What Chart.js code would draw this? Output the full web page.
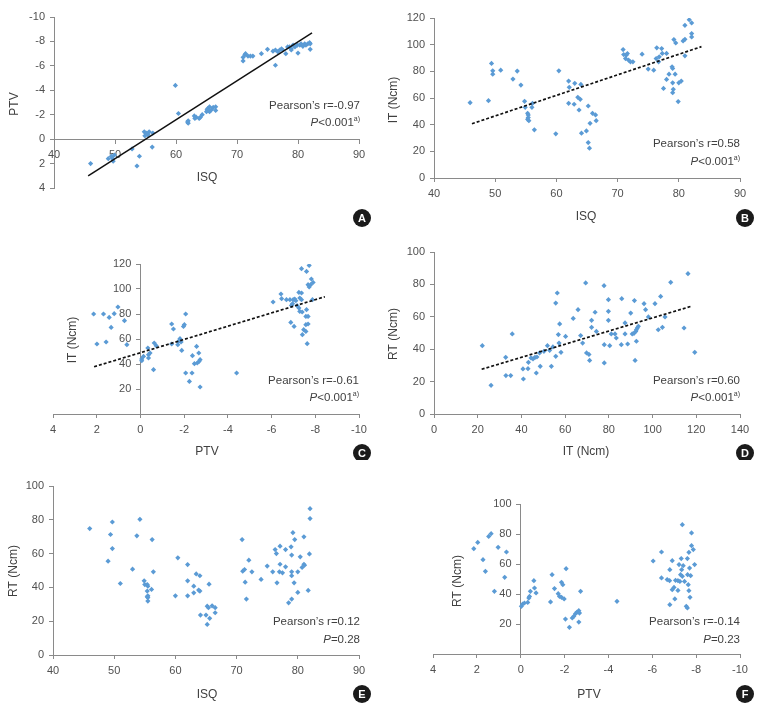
<!DOCTYPE html>
<html>
<head>
<meta charset="utf-8">
<script src="https://cdn.jsdelivr.net/npm/chart.js@4"></script>
<style>
  body { margin: 0; background: #fff; }
  #fig { position: relative; width: 758px; height: 706px; }
  #fig canvas { position: absolute; }
</style>
</head>
<body>
<div id="fig">
  <canvas id="pA" width="379" height="230" style="left:0;top:0"></canvas>
  <canvas id="pB" width="379" height="230" style="left:379px;top:0"></canvas>
  <canvas id="pC" width="379" height="230" style="left:0;top:230px"></canvas>
  <canvas id="pD" width="379" height="230" style="left:379px;top:230px"></canvas>
  <canvas id="pE" width="379" height="246" style="left:0;top:460px"></canvas>
  <canvas id="pF" width="379" height="246" style="left:379px;top:460px"></canvas>
</div>
<script>
// ---- data ----
// A: ISQ vs PTV
const isqPtv = [[46,2.0],[48.9,1.6],[49.4,1.4],[49.7,1.8],[49.9,1.3],[49.6,1.6],[52.8,0.8],[54,1.4],[53.6,2.2],[54.8,-0.6],[55.1,-0.5],[55.4,-0.35],[54.9,-0.27],[55.6,-0.6],[56.2,-0.5],[56.1,0.65],[59.9,-4.4],[60.4,-2.1],[61.9,-1.4],[62,-1.3],[62,-1.5],[63,-1.9],[63.3,-1.8],[64,-1.8],[64.3,-2.0],[63.8,-1.7],[63.1,-1.7],[65,-2.25],[65.2,-2.5],[65.5,-2.65],[65.8,-2.4],[66.1,-2.6],[66.5,-2.65],[66.5,-2.35],[65.5,-2.25],[65.1,-2.4],[71,-6.4],[71,-6.7],[71.3,-6.9],[71.4,-7.0],[71.8,-6.8],[72.2,-6.8],[72.6,-6.8],[74,-7.0],[75,-7.35],[75.9,-7.2],[76.3,-7.3],[76.7,-7.15],[76.3,-6.05],[77,-7.3],[77.3,-7.4],[77.5,-7.3],[78,-7.0],[78.3,-7.55],[78.6,-7.55],[78.9,-7.4],[79.2,-7.7],[78.9,-7.3],[79.5,-7.55],[79.9,-7.7],[80,-7.05],[80.3,-7.7],[80.5,-7.8],[80.8,-7.6],[81.1,-7.8],[81.6,-7.8],[81.9,-7.9],[82,-7.35],[82,-7.8],[81.3,-7.7]];
const fitA = [[45.6,3.0],[82.3,-8.7]];

// B: ISQ vs IT
const isqIt = [[45.9,56.5],[48.9,58],[49.4,85.9],[49.6,80.4],[49.6,77.9],[50.9,80.9],[52.9,74.2],[53.6,80.2],[54.2,69.7],[54.8,57.5],[54.9,53],[55.3,48.5],[55.4,47.3],[55.4,45.3],[55.3,44],[55.5,43],[56,53],[56.1,56],[56.4,36.1],[59.9,33.1],[60.4,80.4],[62,72.7],[62.1,68],[62,56],[63,71],[62.9,55.3],[63.5,60.5],[63.9,59],[63.7,51],[64,70.2],[64.1,33.6],[64.9,35.3],[65.2,54],[65.2,26.6],[65.4,22.4],[65.5,41],[65.9,48.5],[66.4,47.3],[66.5,43],[70.9,96.3],[71,92.6],[71.4,92.1],[71.6,93.3],[71.3,89.6],[71.8,88.4],[72.1,87.1],[72.5,87.1],[74,92.9],[75,81.7],[75.9,80.9],[76.4,97.6],[76.3,89.6],[76.7,87.1],[76.8,90.9],[77.2,97.1],[77.3,93.4],[77.5,67.2],[78,73.9],[78,93.4],[78.4,77.9],[78.9,83.4],[79,82.2],[79,71.4],[79.1,66.5],[79,64],[79.2,103.8],[79.5,101.3],[79.4,77.9],[79.9,57.3],[80,71.4],[80.4,72.7],[80.7,102.8],[81,104],[81,91.6],[81,114.5],[81.7,118.7],[82.1,116.3],[82.1,108.3],[82.1,105.8]];
const fitB = [[46.2,40.7],[83.7,98.5]];

// C: PTV vs IT
const ptvIt = [[2.14,80],[1.99,56],[1.69,80],[1.57,57.6],[1.43,77.3],[1.34,69.3],[1.2,80.3],[1.03,85.6],[0.73,74.7],[0.62,55.5],[-0.06,44],[-0.14,46.1],[-0.06,42.7],[-0.37,44.8],[-0.37,47.5],[-0.44,48.8],[-0.34,52.8],[-0.6,35.5],[-0.63,56.8],[-0.72,54.7],[-1.43,72],[-1.51,68],[-1.43,56],[-1.71,55.5],[-1.74,58.1],[-1.81,60.3],[-1.86,57.6],[-1.89,50.9],[-1.97,70.1],[-2.01,71.5],[-2.07,80],[-2.07,32.8],[-2.24,26.1],[-2.38,46.7],[-2.36,32.8],[-2.47,40.3],[-2.57,54.1],[-2.6,40.8],[-2.68,42.1],[-2.73,43.5],[-2.67,48.8],[-2.73,21.6],[-4.4,32.8],[-6.07,89.6],[-6.43,96],[-6.46,92.3],[-6.68,91.5],[-6.84,91.5],[-6.96,88.3],[-6.91,86.9],[-6.99,91.5],[-7.06,92],[-7.11,90.7],[-6.88,73.3],[-7.03,70.1],[-7.17,86.7],[-7.25,84.8],[-7.25,97.3],[-7.37,96.8],[-7.29,92.8],[-7.37,91.5],[-7.29,82.1],[-7.4,81.6],[-7.37,116.3],[-7.41,63.5],[-7.47,67.5],[-7.57,66.1],[-7.6,114.1],[-7.6,83.5],[-7.57,78.1],[-7.67,78.1],[-7.57,71.5],[-7.67,72],[-7.63,56.3],[-7.67,103.5],[-7.72,101.6],[-7.79,103.5],[-7.72,118.9],[-7.82,108],[-7.87,91.5],[-7.9,105.3]];
const fitC = [[2.12,37.8],[-8.44,93.8]];

// D: IT vs RT
const itRt = [[22.1,42.2],[26.1,17.7],[32.8,35],[32.9,23.7],[35.1,23.7],[35.8,49.4],[40.7,27.8],[40.9,21.6],[43,28],[43.2,31.9],[44.4,34.6],[45.3,34],[46.2,35],[47.1,35.2],[46.8,25.3],[48.3,37.7],[48.6,29.4],[50.3,38.7],[51.9,42.2],[52.9,39.3],[53.7,29.4],[54.4,41.4],[55.7,35.6],[55.7,68.5],[56.4,74.7],[56.9,49],[57.2,43.8],[57.5,55.6],[58.1,38.1],[60.2,47.9],[63.7,59],[65.9,64.4],[67.1,48.4],[68,43.8],[69.4,80.9],[69.8,37.7],[70.9,36.8],[71.2,33.1],[72.1,57.8],[72.1,53.5],[73.7,62.8],[74.3,51],[77.8,79.2],[77.9,42.8],[77.9,31.5],[79.8,63.4],[79.8,57.8],[79.8,70.6],[80.4,42.2],[81.1,49.4],[82.8,49.4],[83.4,46.9],[85.7,42.8],[85.9,71.2],[87.4,56.2],[87.4,49.4],[88.6,43.2],[90,62.3],[90.7,49.4],[91.5,49.8],[92.3,51],[93,53.1],[93.5,54.1],[92.6,52],[91.7,70],[92,33.1],[92.6,44.9],[96.1,68.1],[96.8,64.4],[98.1,59.9],[101.1,68.1],[102.6,52],[103.7,72.6],[104.5,53.5],[105.7,59.9],[108.3,81.3],[114.4,53.1],[116.2,86.6],[119.3,38.1]];
const fitD = [[21.8,27.6],[118.2,66.7]];

// E: ISQ vs RT
const isqRt = [[46,74.8],[49,55.5],[49.4,71.3],[49.7,78.7],[49.7,63],[51,42.3],[53,50.8],[53.7,70.5],[54.2,80.3],[54.9,43.9],[55,41.7],[55.4,41.7],[55.5,40.7],[55.4,37.8],[55.5,35],[55.5,34],[55.5,31.9],[55.4,34.4],[56.1,38.8],[56.2,68.3],[56.4,49.2],[60,35],[60.4,57.5],[62,53.5],[62,43.9],[62,35],[63,40.7],[63,36.8],[63.4,48],[63.8,38.4],[64,37.8],[64,46.9],[64.1,23.6],[65,23.6],[65.2,28.9],[65.4,28],[65.2,18.1],[65.5,41.9],[65.6,21.7],[66,29.1],[66.5,28],[66.5,25],[70.9,68.3],[71,49.6],[71.3,50.6],[71.4,43.1],[71.6,33.1],[72,56.1],[72.5,49.2],[74,44.7],[75,52.6],[75.9,49.2],[76.3,62.4],[76.5,60],[76.6,42.7],[77.1,64.4],[77.1,53.7],[77,49.2],[77.5,48.6],[78,62.4],[78,52.2],[78.5,30.9],[78.9,64],[79,59.1],[79,49.2],[79,46.9],[79,33.1],[79.2,72.4],[79.5,68.3],[79.4,42.7],[80,49.2],[80,37],[80.4,58.1],[80.7,51.8],[81,69.9],[81,53.7],[81.1,53.1],[81.7,38.2],[82,86.6],[82,80.7],[81.9,59.8]];

// F: PTV vs RT
const ptvRt = [[2.14,70.2],[1.96,74.4],[1.72,62.9],[1.61,55.1],[1.46,78.4],[1.35,80.2],[1.2,41.8],[1.03,71.1],[0.73,51.1],[0.65,68],[-0.03,31.8],[-0.09,33.3],[-0.17,34],[-0.32,34.4],[-0.37,37.3],[-0.4,38.4],[-0.44,41.8],[-0.6,48.9],[-0.63,44],[-0.7,40.7],[-1.36,34.7],[-1.43,52.9],[-1.54,43.6],[-1.71,40.2],[-1.77,38.4],[-1.86,37.8],[-1.86,47.8],[-1.92,46.2],[-1.98,36.7],[-2.04,23.3],[-2.07,56.9],[-2.22,17.8],[-2.35,24],[-2.42,25.1],[-2.5,26.9],[-2.57,28],[-2.65,28.9],[-2.68,27.3],[-2.65,21.3],[-2.73,41.8],[-4.39,35.1],[-6.04,62],[-6.42,50.7],[-6.42,68],[-6.68,49.6],[-6.79,48.9],[-6.8,56.2],[-6.8,32.9],[-6.91,62.2],[-6.91,42.9],[-6.99,44.4],[-7.03,36.7],[-7.06,49.1],[-7.17,48.9],[-7.26,48.4],[-7.17,42.4],[-7.22,59.6],[-7.34,56.2],[-7.29,52.9],[-7.37,51.8],[-7.32,63.6],[-7.37,86.2],[-7.41,58.9],[-7.47,48.4],[-7.55,31.8],[-7.6,30.7],[-7.6,63.6],[-7.61,52.9],[-7.64,46.2],[-7.67,42.2],[-7.67,67.8],[-7.7,57.3],[-7.72,37.8],[-7.75,52.2],[-7.79,80.7],[-7.79,72.2],[-7.87,69.6],[-7.93,59.6]];

const pearsonR = ['-0.97', '0.58', '-0.61', '0.60', '0.12', '-0.14'];
const pValues = ['<0.001', '<0.001', '<0.001', '<0.001', '=0.28', '=0.23'];

// ---- styling ----
const FONT = "'Liberation Sans', Arial, sans-serif";
const BLUE = '#5b9bd5';
const AXIS = '#8a8a8a';
const TEXT = '#404040';
Chart.defaults.font.family = FONT;
Chart.defaults.font.size = 11;
Chart.defaults.color = '#505050';

const toXY = arr => arr.map(p => ({ x: p[0], y: p[1] }));

const panelText = {
  id: 'panelText',
  afterDraw(chart, args, o) {
    const ctx = chart.ctx;
    ctx.save();
    ctx.fillStyle = TEXT;
    ctx.textBaseline = 'middle';
    ctx.textAlign = 'center';
    ctx.font = '12px ' + FONT;
    ctx.fillText(o.xTitle, o.xt[0], o.xt[1]);
    ctx.save();
    ctx.translate(o.yt[0], o.yt[1]);
    ctx.rotate(-Math.PI / 2);
    ctx.fillText(o.yTitle, 0, 0);
    ctx.restore();

    // statistics, right aligned
    ctx.textAlign = 'right';
    ctx.font = '11.5px ' + FONT;
    ctx.fillText('Pearson\u2019s r=' + o.r, o.sx, o.sy[0]);
    const fIt = 'italic 11.5px ' + FONT, fReg = '11.5px ' + FONT, fSup = '7px ' + FONT;
    ctx.font = fSup; const wS = o.sup ? ctx.measureText(o.sup).width : 0;
    ctx.font = fReg; const wR = ctx.measureText(o.p).width;
    ctx.font = fIt; const wP = ctx.measureText('P').width;
    let x = o.sx - wS - wR - wP;
    ctx.textAlign = 'left';
    ctx.fillText('P', x, o.sy[1]); x += wP;
    ctx.font = fReg; ctx.fillText(o.p, x, o.sy[1]); x += wR;
    if (o.sup) { ctx.font = fSup; ctx.fillText(o.sup, x, o.sy[1] - 4); }

    // panel badge
    ctx.fillStyle = '#1b1b1b';
    ctx.beginPath();
    ctx.arc(o.badge[0], o.badge[1], 9, 0, Math.PI * 2);
    ctx.fill();
    ctx.fillStyle = '#fff';
    ctx.font = 'bold 11px ' + FONT;
    ctx.textAlign = 'center';
    ctx.fillText(o.letter, o.badge[0], o.badge[1] + 0.5);
    ctx.restore();
  }
};

function axis(min, max, step, extra) {
  return Object.assign({
    type: 'linear', min: min, max: max,
    ticks: { stepSize: step, padding: 5, color: '#505050' },
    grid: { drawOnChartArea: false, tickLength: 4, color: AXIS },
    border: { color: AXIS, width: 1 }
  }, extra);
}

function panel(id, pts, fit, dashed, pad, scales, text) {
  const datasets = [];
  if (fit) {
    datasets.push({
      data: toXY(fit), showLine: true, pointRadius: 0,
      borderColor: '#111', borderWidth: dashed ? 1.7 : 1.5,
      borderDash: dashed ? [3, 2] : []
    });
  }
  datasets.push({
    data: toXY(pts), pointStyle: 'rectRot', pointRadius: 2.6,
    backgroundColor: BLUE, borderColor: BLUE, borderWidth: 0
  });
  return new Chart(document.getElementById(id), {
    type: 'scatter',
    data: { datasets: datasets },
    options: {
      responsive: false,
      animation: false,
      layout: { padding: pad },
      plugins: { legend: { display: false }, tooltip: { enabled: false }, panelText: text },
      scales: scales
    },
    plugins: [panelText]
  });
}

// y axis crossing at x=0: no label at 0, keep a gap to the axis line
const crossLabel = v => (v === 0 ? '' : v + '   ');

// A
panel('pA', isqPtv, fitA, false, { left: 0, top: 17, right: 20, bottom: 42 }, {
  x: axis(40, 90, 10, { position: { y: 0 } }),
  y: axis(-10, 4, 2, { reverse: true, afterFit: s => { s.width = 54; } })
}, { xTitle: 'ISQ', yTitle: 'PTV', xt: [207, 178], yt: [15, 104], r: pearsonR[0], p: pValues[0], sup: 'a)',
     sx: 360, sy: [106, 123], badge: [362, 218], letter: 'A' });

// B
panel('pB', isqIt, fitB, true, { left: 0, top: 18, right: 18, bottom: 0 }, {
  x: axis(40, 90, 10, { afterFit: s => { s.height = 52; } }),
  y: axis(0, 120, 20, { afterFit: s => { s.width = 55; } })
}, { xTitle: 'ISQ', yTitle: 'IT (Ncm)', xt: [207, 217], yt: [15, 100], r: pearsonR[1], p: pValues[1], sup: 'a)',
     sx: 361, sy: [144, 162], badge: [366, 218], letter: 'B' });

// C
panel('pC', ptvIt, fitC, true, { left: 53, top: 34, right: 20, bottom: 0 }, {
  x: axis(-10, 4, 2, { reverse: true, afterFit: s => { s.height = 46; } }),
  y: axis(0, 120, 20, { position: { x: 0 }, ticks: { stepSize: 20, padding: 5, callback: crossLabel } })
}, { xTitle: 'PTV', yTitle: 'IT (Ncm)', xt: [207, 222], yt: [73, 110], r: pearsonR[2], p: pValues[2], sup: 'a)',
     sx: 359, sy: [151, 168], badge: [362, 223], letter: 'C' });

// D
panel('pD', itRt, fitD, true, { left: 0, top: 22, right: 18, bottom: 0 }, {
  x: axis(0, 140, 20, { afterFit: s => { s.height = 46; } }),
  y: axis(0, 100, 20, { afterFit: s => { s.width = 55; } })
}, { xTitle: 'IT (Ncm)', yTitle: 'RT (Ncm)', xt: [207, 222], yt: [15, 104], r: pearsonR[3], p: pValues[3], sup: 'a)',
     sx: 361, sy: [151, 168], badge: [366, 223], letter: 'D' });

// E
panel('pE', isqRt, null, false, { left: 0, top: 26, right: 20, bottom: 0 }, {
  x: axis(40, 90, 10, { afterFit: s => { s.height = 51; } }),
  y: axis(0, 100, 20, { afterFit: s => { s.width = 53; } })
}, { xTitle: 'ISQ', yTitle: 'RT (Ncm)', xt: [207, 235], yt: [14, 111], r: pearsonR[4], p: pValues[4], sup: '',
     sx: 360, sy: [162, 180], badge: [362, 234], letter: 'E' });

// F
panel('pF', ptvRt, null, false, { left: 54, top: 44, right: 18, bottom: 0 }, {
  x: axis(-10, 4, 2, { reverse: true, afterFit: s => { s.height = 52; } }),
  y: axis(0, 100, 20, { position: { x: 0 }, ticks: { stepSize: 20, padding: 5, callback: crossLabel } })
}, { xTitle: 'PTV', yTitle: 'RT (Ncm)', xt: [210, 235], yt: [79, 121], r: pearsonR[5], p: pValues[5], sup: '',
     sx: 361, sy: [162, 180], badge: [366, 234], letter: 'F' });
</script>
</body>
</html>
